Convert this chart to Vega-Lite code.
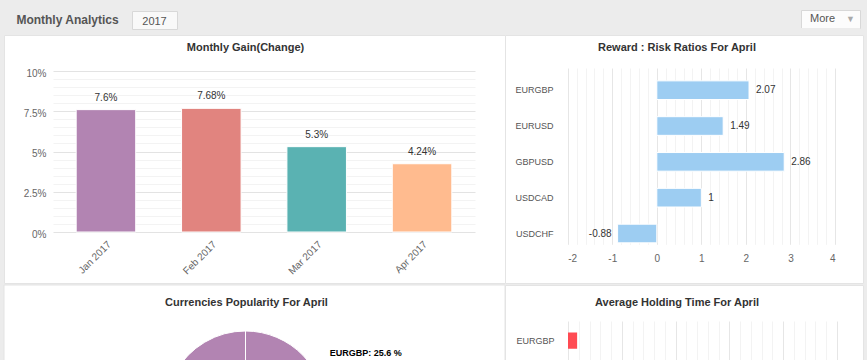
{
  "$schema": "https://vega.github.io/schema/vega-lite/v6.json",
  "padding": {"left": 3, "top": 1, "right": 0, "bottom": 0},
  "background": "#ececec",
  "config": {
    "font": "Liberation Sans",
    "view": {"stroke": "#e4e4e4", "strokeWidth": 1, "fill": "#ffffff"},
    "title": {"fontSize": 11, "fontWeight": "bold", "color": "#333333", "font": "Liberation Sans"},
    "axis": {"labelFont": "Liberation Sans", "labelColor": "#666666", "domain": false, "ticks": false}
  },
  "datasets": {
    "gain": [
      {"month": "Jan 2017", "gain": 0.076},
      {"month": "Feb 2017", "gain": 0.0768},
      {"month": "Mar 2017", "gain": 0.053},
      {"month": "Apr 2017", "gain": 0.0424}
    ],
    "rr": [
      {"pair": "EURGBP", "ratio": 2.07},
      {"pair": "EURUSD", "ratio": 1.49},
      {"pair": "GBPUSD", "ratio": 2.86},
      {"pair": "USDCAD", "ratio": 1},
      {"pair": "USDCHF", "ratio": -0.88}
    ],
    "pop": [
      {"pair": "EURGBP", "share": 25.6, "label": "EURGBP: 25.6 %"},
      {"pair": "EURUSD", "share": 16.2, "label": "EURUSD: 16.2 %"},
      {"pair": "GBPUSD", "share": 14.8, "label": "GBPUSD: 14.8 %"},
      {"pair": "USDCAD", "share": 9.4, "label": "USDCAD: 9.4 %"},
      {"pair": "USDCHF", "share": 34.0, "label": "USDCHF: 34 %"}
    ],
    "hold": [
      {"pair": "EURGBP", "hours": 0.17},
      {"pair": "EURUSD", "hours": 1.3},
      {"pair": "GBPUSD", "hours": 2.4},
      {"pair": "USDCAD", "hours": 0.8},
      {"pair": "USDCHF", "hours": 3.1}
    ]
  },
  "spacing": 0,
  "bounds": "full",
  "vconcat": [
    {
      "spacing": 0,
      "bounds": "full",
      "hconcat": [
        {
          "width": 127, "height": 24,
          "view": {"fill": "#ececec", "stroke": null},
          "data": {"values": [{"t": "Monthly Analytics"}]},
          "mark": {"type": "text", "fontSize": 12, "fontWeight": "bold", "color": "#555555", "dy": 3},
          "encoding": {"text": {"field": "t"}}
        },
        {
          "spacing": 0,
          "bounds": "flush",
          "vconcat": [
            {
              "width": 45, "height": 6,
              "view": {"fill": "#ececec", "stroke": null},
              "data": {"values": [{"t": ""}]},
              "mark": {"type": "text"},
              "encoding": {"text": {"field": "t"}}
            },
            {
              "width": 45, "height": 18,
              "view": {"fill": "#f9f9f9", "stroke": "#d8d8d8"},
              "data": {"values": [{"t": "2017"}]},
              "mark": {"type": "text", "fontSize": 11, "color": "#555555", "dy": 2},
              "encoding": {"text": {"field": "t"}}
            }
          ]
        },
        {
          "width": 622, "height": 24,
          "view": {"fill": "#ececec", "stroke": null},
          "data": {"values": [{"t": ""}]},
          "mark": {"type": "text"},
          "encoding": {"text": {"field": "t"}}
        },
        {
          "spacing": 0,
          "bounds": "flush",
          "vconcat": [
            {
              "width": 59, "height": 5,
              "view": {"fill": "#ececec", "stroke": null},
              "data": {"values": [{"t": ""}]},
              "mark": {"type": "text"},
              "encoding": {"text": {"field": "t"}}
            },
            {
              "width": 59, "height": 18,
              "view": {"fill": "#fcfcfc", "stroke": "#d8d8d8"},
              "data": {"values": [{"t": "More", "arrow": "▼"}]},
              "layer": [
                {"mark": {"type": "text", "fontSize": 11, "color": "#555555", "dx": -8}, "encoding": {"text": {"field": "t"}}},
                {"mark": {"type": "text", "fontSize": 9, "color": "#aaaaaa", "dx": 20}, "encoding": {"text": {"field": "arrow"}}}
              ]
            },
            {
              "width": 59, "height": 1,
              "view": {"fill": "#ececec", "stroke": null},
              "data": {"values": [{"t": ""}]},
              "mark": {"type": "text"},
              "encoding": {"text": {"field": "t"}}
            }
          ]
        },
        {
          "width": 11, "height": 24,
          "view": {"fill": "#ececec", "stroke": null},
          "data": {"values": [{"t": ""}]},
          "mark": {"type": "text"},
          "encoding": {"text": {"field": "t"}}
        }
      ]
    },
    {
      "spacing": 0,
      "bounds": "flush",
      "hconcat": [
        {
          "width": 501, "height": 248,
          "title": {"text": "Monthly Gain(Change)", "offset": -18, "dx": -9},
          "data": {"name": "gain"},
          "encoding": {
            "x": {
              "field": "month", "type": "nominal", "sort": null, "title": null,
              "scale": {"range": [49, 471], "paddingInner": 0.435, "paddingOuter": 0.22},
              "axis": {"labelAngle": -45, "offset": -51, "labelFontSize": 10, "labelPadding": 7, "grid": false}
            },
            "y": {
              "field": "gain", "type": "quantitative", "title": null,
              "scale": {"domain": [0, 0.1], "range": [197, 36], "nice": false},
              "axis": {
                "offset": -45,
                "values": [0, 0.005, 0.01, 0.015, 0.02, 0.025, 0.03, 0.035, 0.04, 0.045, 0.05, 0.055, 0.06, 0.065, 0.07, 0.075, 0.08, 0.085, 0.09, 0.095, 0.1],
                "format": ".1~%",
                "labelExpr": "abs(datum.value * 40 - round(datum.value * 40)) < 0.000001 ? datum.label : ''",
                "gridColor": {"condition": {"test": "abs(datum.value * 40 - round(datum.value * 40)) < 0.000001", "value": "#e3e3e3"}, "value": "#f3f3f3"},
                "labelFontSize": 10, "labelPadding": 3, "labelOffset": 2
              }
            }
          },
          "layer": [
            {
              "mark": {"type": "bar", "stroke": "#ffffff", "strokeWidth": 1},
              "encoding": {
                "color": {
                  "field": "month", "type": "nominal", "legend": null,
                  "scale": {"domain": ["Jan 2017", "Feb 2017", "Mar 2017", "Apr 2017"], "range": ["#b284b2", "#e1847f", "#5ab2b2", "#ffbb8f"]}
                }
              }
            },
            {
              "mark": {"type": "text", "baseline": "bottom", "dy": -7, "fontSize": 10, "color": "#333333"},
              "encoding": {"text": {"field": "gain", "format": ".2~%"}}
            }
          ]
        },
        {
          "width": 358, "height": 248,
          "title": {"text": "Reward : Risk Ratios For April", "offset": -18, "dx": -7},
          "data": {"name": "rr"},
          "encoding": {
            "y": {
              "field": "pair", "type": "nominal", "sort": null, "title": null,
              "scale": {"range": [38.7, 215], "paddingInner": 0.48, "paddingOuter": 0.2},
              "axis": {"offset": -50, "labelFontSize": 9, "labelPadding": 2, "grid": false, "labelColor": "#555555"}
            },
            "x": {
              "field": "ratio", "type": "quantitative", "title": null,
              "scale": {"domain": [-2, 4], "range": [62.7, 330], "nice": false},
              "axis": {
                "offset": -33,
                "values": [-2, -1.8, -1.6, -1.4, -1.2, -1, -0.8, -0.6, -0.4, -0.2, 0, 0.2, 0.4, 0.6, 0.8, 1, 1.2, 1.4, 1.6, 1.8, 2, 2.2, 2.4, 2.6, 2.8, 3, 3.2, 3.4, 3.6, 3.8, 4],
                "labelExpr": "datum.value === round(datum.value) ? '' + datum.value : ''",
                "gridColor": {"condition": {"test": "datum.value === round(datum.value)", "value": "#e6e6e6"}, "value": "#f3f3f3"},
                "labelFontSize": 10, "labelPadding": 3
              }
            }
          },
          "layer": [
            {"mark": {"type": "bar", "color": "#9dcdf2", "stroke": "#ffffff", "strokeWidth": 1}},
            {
              "transform": [{"filter": "datum.ratio >= 0"}],
              "mark": {"type": "text", "align": "left", "dx": 7, "fontSize": 10, "color": "#333333"},
              "encoding": {"text": {"field": "ratio", "type": "nominal"}}
            },
            {
              "transform": [{"filter": "datum.ratio < 0"}],
              "mark": {"type": "text", "align": "right", "dx": -6, "fontSize": 10, "color": "#333333"},
              "encoding": {"text": {"field": "ratio", "type": "nominal"}}
            }
          ]
        }
      ]
    },
    {
      "spacing": 0,
      "bounds": "flush",
      "hconcat": [
        {
          "width": 501, "height": 252,
          "title": {"text": "Currencies Popularity For April", "offset": -23, "dx": -8},
          "view": {"fill": "#ffffff", "stroke": "#e4e4e4"},
          "layer": [
            {
              "data": {"values": [{"bg": 1}]},
              "mark": {"type": "rect", "color": "#ffffff", "stroke": "#e4e4e4", "strokeWidth": 1}
            },
            {
              "data": {"name": "pop"},
              "mark": {"type": "arc", "outerRadius": 80, "stroke": "#ffffff", "strokeWidth": 1, "xOffset": -9},
              "encoding": {
                "theta": {"field": "share", "type": "quantitative", "stack": true},
                "color": {
                  "field": "pair", "type": "nominal", "legend": null,
                  "scale": {"domain": ["EURGBP", "EURUSD", "GBPUSD", "USDCAD", "USDCHF"], "range": ["#b284b2", "#e1847f", "#5ab2b2", "#ffbb8f", "#bfd96e"]}
                }
              }
            },
            {
              "data": {"name": "pop"},
              "mark": {"type": "text", "radius": 103, "align": "left", "baseline": "middle", "xOffset": -9, "dx": 10, "dy": 13, "fontSize": 9, "fontWeight": "bold", "color": "#000000"},
              "encoding": {
                "theta": {"field": "share", "type": "quantitative", "stack": true},
                "text": {"field": "label"}
              }
            }
          ]
        },
        {
          "width": 358, "height": 252,
          "title": {"text": "Average Holding Time For April", "offset": -23, "dx": -7},
          "data": {"name": "hold"},
          "mark": {"type": "bar", "color": "#ff4a52"},
          "encoding": {
            "y": {
              "field": "pair", "type": "nominal", "sort": null, "title": null,
              "scale": {"range": [40.3, 216], "paddingInner": 0.55, "paddingOuter": 0.2},
              "axis": {"offset": -51, "labelFontSize": 9, "labelPadding": 2, "grid": false, "labelColor": "#555555"}
            },
            "x": {
              "field": "hours", "type": "quantitative", "title": null,
              "scale": {"domain": [0, 5], "range": [63, 332], "nice": false},
              "axis": {
                "offset": -36,
                "values": [0, 0.2, 0.4, 0.6, 0.8, 1, 1.2, 1.4, 1.6, 1.8, 2, 2.2, 2.4, 2.6, 2.8, 3, 3.2, 3.4, 3.6, 3.8, 4, 4.2, 4.4, 4.6, 4.8, 5],
                "labelExpr": "datum.value === round(datum.value) ? '' + datum.value : ''",
                "gridColor": {"condition": {"test": "datum.value === round(datum.value)", "value": "#e6e6e6"}, "value": "#f3f3f3"},
                "labelFontSize": 10, "labelPadding": 3
              }
            }
          }
        }
      ]
    }
  ]
}
